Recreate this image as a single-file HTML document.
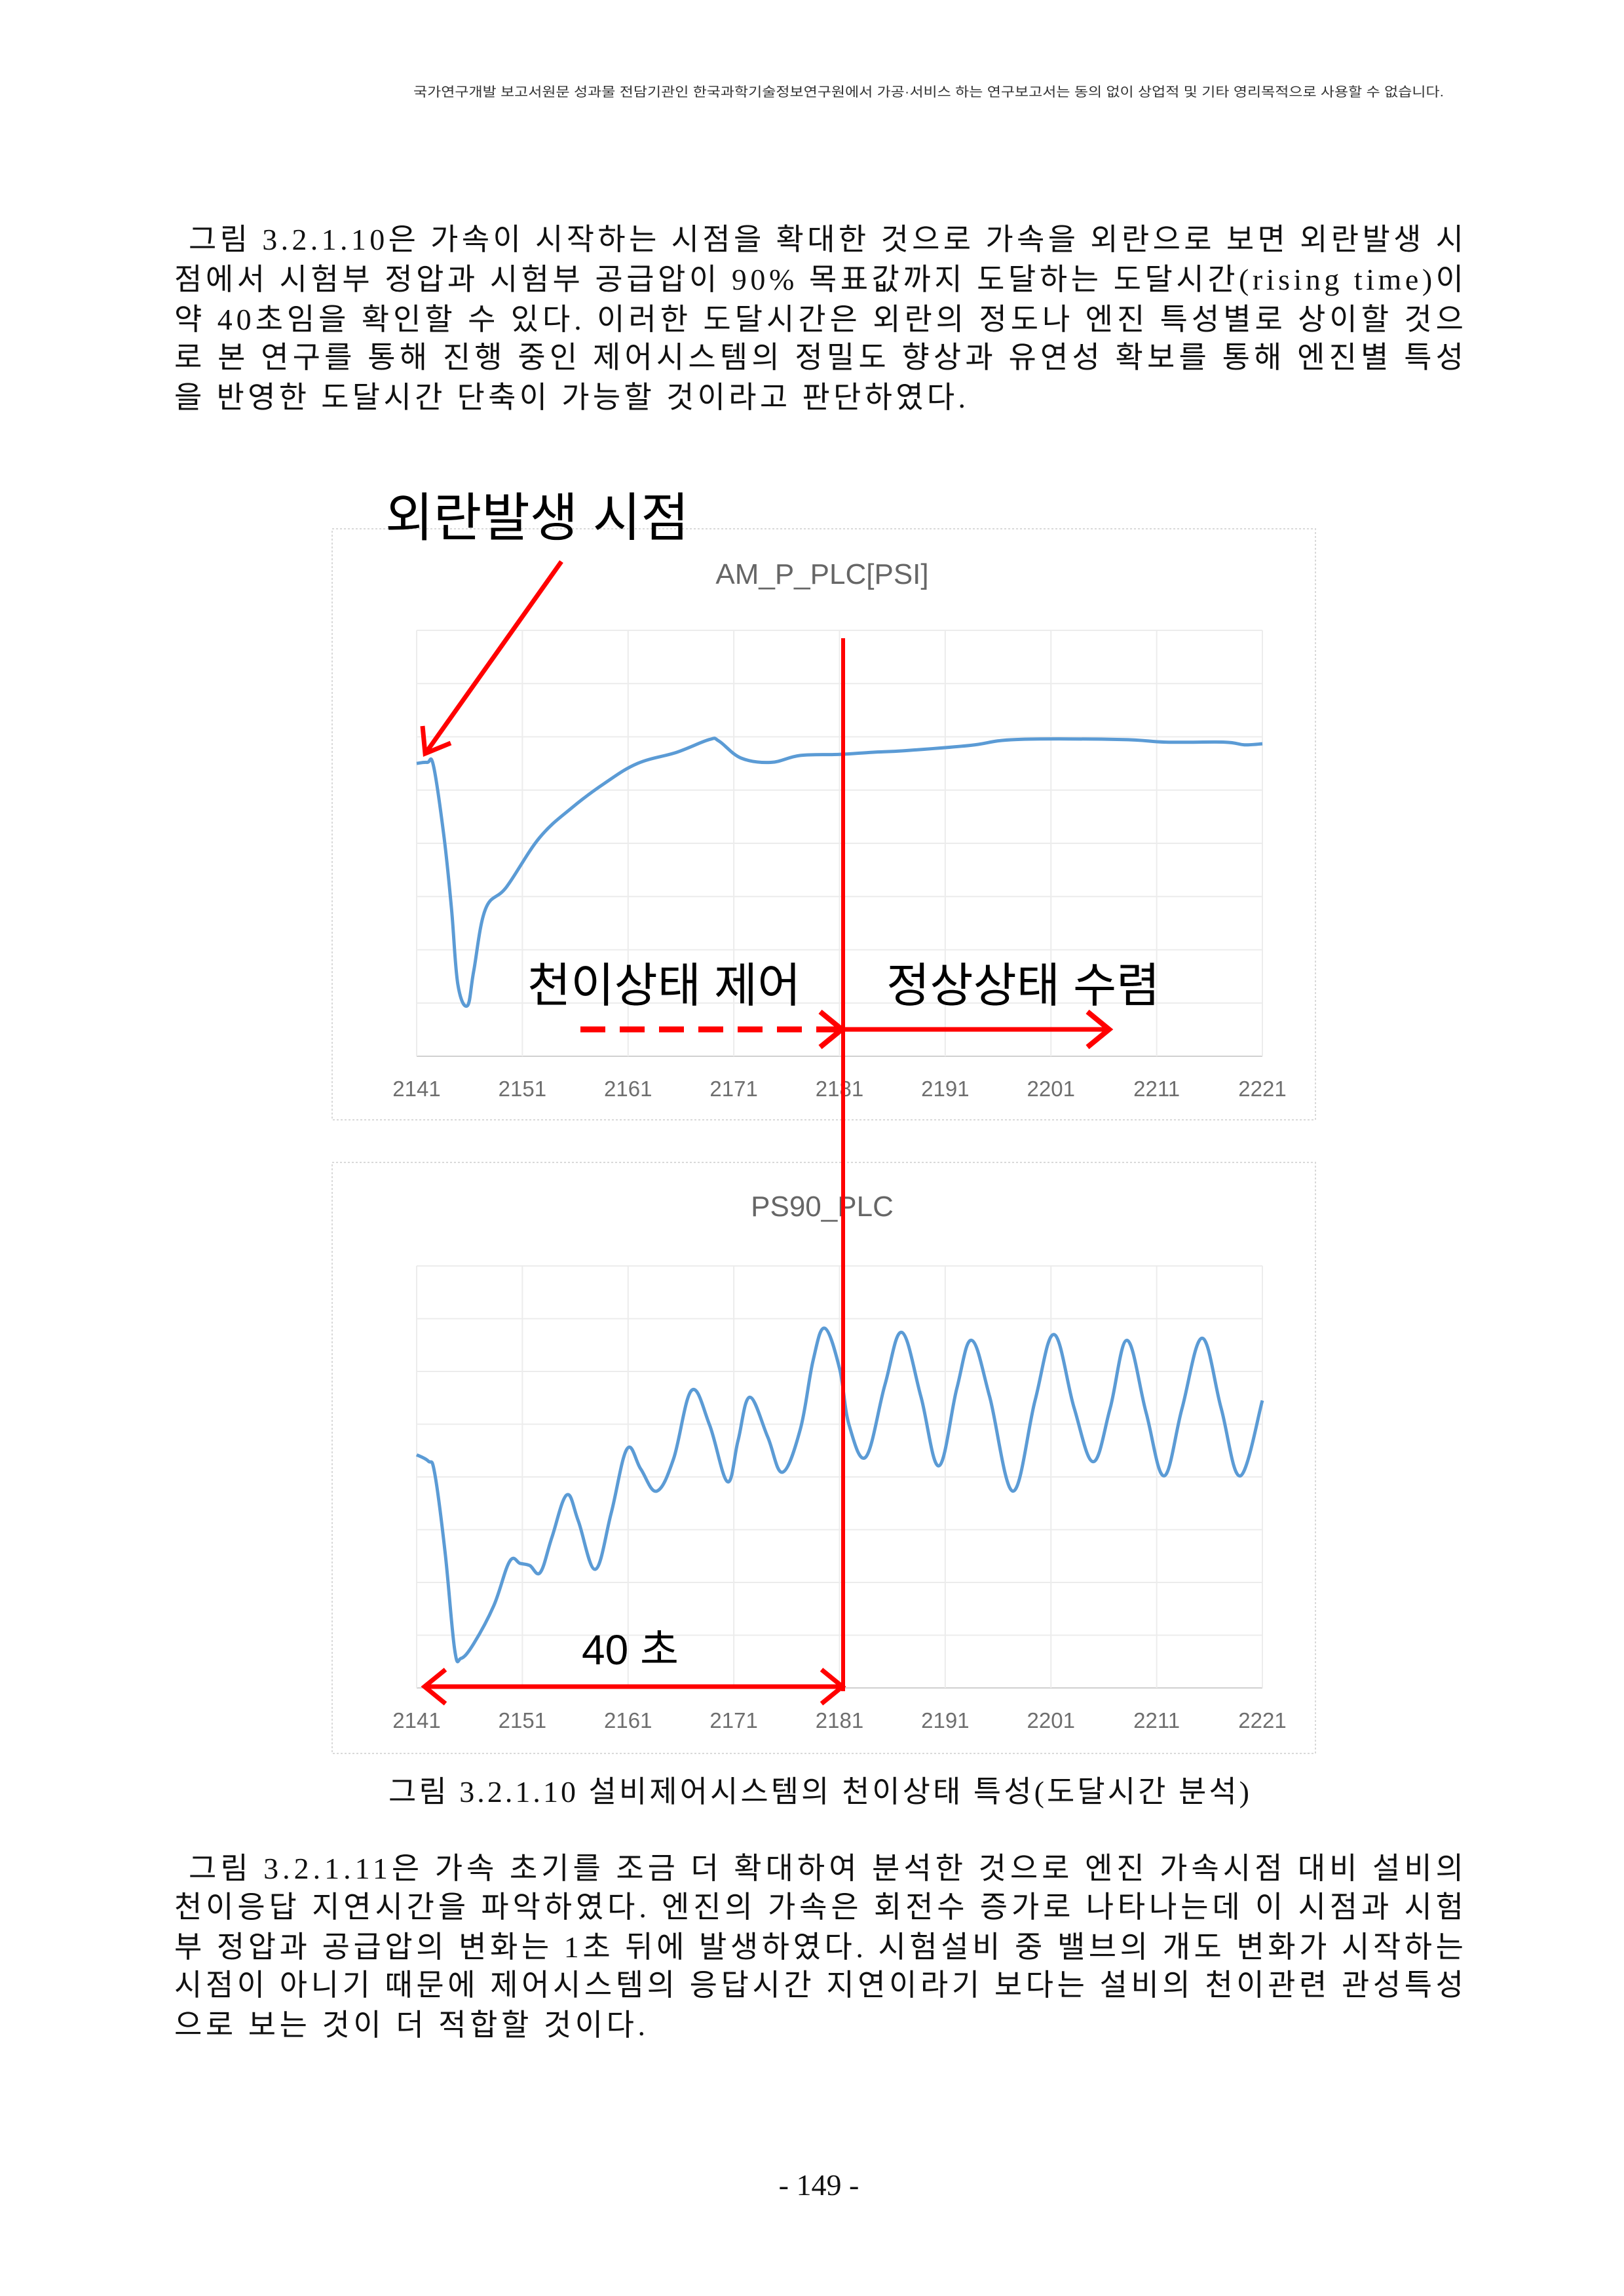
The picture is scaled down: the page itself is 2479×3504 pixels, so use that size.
<!DOCTYPE html>
<html><head><meta charset="utf-8">
<style>
html,body{margin:0;padding:0;background:#fff;}
svg{display:block;}
.kr{font-family:"Liberation Sans","Noto Sans CJK KR",sans-serif;}
.body{font-family:"Liberation Serif","Noto Sans CJK KR",sans-serif;font-size:46px;fill:#111;}
.tick{font-family:"Liberation Sans","Noto Sans CJK KR",sans-serif;font-size:33px;fill:#6e6e6e;}
</style></head>
<body>
<svg id="page" width="2479" height="3504" viewBox="0 0 2479 3504">
<text class="kr" x="631" y="147" font-size="20" fill="#333" textLength="1573" lengthAdjust="spacingAndGlyphs">국가연구개발 보고서원문 성과물 전담기관인 한국과학기술정보연구원에서 가공·서비스 하는 연구보고서는 동의 없이 상업적 및 기타 영리목적으로 사용할 수 없습니다.</text>

<g class="body">
<text x="288" y="381" textLength="1946" lengthAdjust="spacing">그림 3.2.1.10은 가속이 시작하는 시점을 확대한 것으로 가속을 외란으로 보면 외란발생 시</text>
<text x="266" y="442" textLength="1968" lengthAdjust="spacing">점에서 시험부 정압과 시험부 공급압이 90% 목표값까지 도달하는 도달시간(rising time)이</text>
<text x="266" y="503" textLength="1968" lengthAdjust="spacing">약 40초임을 확인할 수 있다. 이러한 도달시간은 외란의 정도나 엔진 특성별로 상이할 것으</text>
<text x="266" y="561" textLength="1968" lengthAdjust="spacing">로 본 연구를 통해 진행 중인 제어시스템의 정밀도 향상과 유연성 확보를 통해 엔진별 특성</text>
<text x="266" y="622" textLength="1208" lengthAdjust="spacing">을 반영한 도달시간 단축이 가능할 것이라고 판단하였다.</text>
</g>

<g id="chart1">
<rect x="507" y="807" width="1501" height="902" fill="#fff" stroke="#d9d9d9" stroke-width="2" stroke-dasharray="3,3"/>
<text class="kr" x="1255" y="891" font-size="44" fill="#666" text-anchor="middle">AM_P_PLC[PSI]</text>
</g>
<g id="chart2">
<rect x="507" y="1774" width="1501" height="902" fill="#fff" stroke="#d9d9d9" stroke-width="2" stroke-dasharray="3,3"/>
<text class="kr" x="1255" y="1856" font-size="44" fill="#666" text-anchor="middle">PS90_PLC</text>
</g>

<g id="annot">
<line x1="1287" y1="974" x2="1287" y2="2581" stroke="#f00" stroke-width="6"/>
<text class="kr" x="588" y="818" font-size="80" fill="#000">외란발생 시점</text>
<line x1="857" y1="857" x2="652" y2="1146" stroke="#f00" stroke-width="7"/>
<polyline points="645,1108 649,1150 688,1134" fill="none" stroke="#f00" stroke-width="7"/>
<text class="kr" x="805" y="1529" font-size="72" fill="#000">천이상태 제어</text>
<text class="kr" x="1353" y="1529" font-size="72" fill="#000">정상상태 수렴</text>
<line x1="886" y1="1571" x2="1282" y2="1571" stroke="#f00" stroke-width="9" stroke-dasharray="38,22"/>
<polyline points="1252,1544 1285,1571 1252,1598" fill="none" stroke="#f00" stroke-width="8"/>
<line x1="1287" y1="1571" x2="1692" y2="1571" stroke="#f00" stroke-width="7"/>
<polyline points="1660,1544 1693,1571 1660,1598" fill="none" stroke="#f00" stroke-width="8"/>
<text class="kr" x="888" y="2540" font-size="64" fill="#000">40 초</text>
<line x1="648" y1="2574" x2="1284" y2="2574" stroke="#f00" stroke-width="7"/>
<polyline points="680,2548 648,2574 680,2600" fill="none" stroke="#f00" stroke-width="7"/>
<polyline points="1254,2548 1286,2574 1254,2600" fill="none" stroke="#f00" stroke-width="7"/>
</g>

<text class="body" x="593" y="2750" textLength="1314" lengthAdjust="spacing">그림 3.2.1.10 설비제어시스템의 천이상태 특성(도달시간 분석)</text>

<g class="body">
<text x="288" y="2867" textLength="1946" lengthAdjust="spacing">그림 3.2.1.11은 가속 초기를 조금 더 확대하여 분석한 것으로 엔진 가속시점 대비 설비의</text>
<text x="266" y="2926" textLength="1968" lengthAdjust="spacing">천이응답 지연시간을 파악하였다. 엔진의 가속은 회전수 증가로 나타나는데 이 시점과 시험</text>
<text x="266" y="2987" textLength="1968" lengthAdjust="spacing">부 정압과 공급압의 변화는 1초 뒤에 발생하였다. 시험설비 중 밸브의 개도 변화가 시작하는</text>
<text x="266" y="3045" textLength="1968" lengthAdjust="spacing">시점이 아니기 때문에 제어시스템의 응답시간 지연이라기 보다는 설비의 천이관련 관성특성</text>
<text x="266" y="3106" textLength="719" lengthAdjust="spacing">으로 보는 것이 더 적합할 것이다.</text>
</g>
<text class="body" x="1250" y="3350" text-anchor="middle" font-size="40">- 149 -</text>
</svg>
<script>
const xTicks=[2141,2151,2161,2171,2181,2191,2201,2211,2221];
const amTimes=[2141,2142,2142.6,2143.6,2144.3,2144.9,2145.8,2146.4,2147.5,2149.5,2152.6,2155.7,2158.8,2161.9,2165.6,2168.7,2169.6,2171.7,2174.5,2177.3,2181,2184.1,2187.2,2193.4,2197.7,2207.6,2211.9,2217.4,2219.3,2221];
const amValues=[5.5,5.52,5.45,4.1,2.76,1.35,0.95,1.6,2.76,3.18,4.1,4.67,5.13,5.5,5.71,5.95,5.92,5.6,5.52,5.65,5.67,5.71,5.74,5.84,5.95,5.95,5.9,5.9,5.85,5.87];
const psTimes=[2141,2142.1,2142.7,2143.7,2144.6,2145.2,2146.4,2148.3,2149.8,2150.8,2151.7,2152.7,2153.8,2155.2,2156.3,2157.9,2159.4,2160.9,2162.2,2163.7,2165.3,2167,2168.7,2170.4,2171.4,2172.5,2174.2,2175.6,2177.3,2178.5,2179.6,2181,2181.9,2183.5,2185.3,2186.9,2188.7,2190.4,2192.1,2193.5,2195.2,2197.4,2199.5,2201.3,2203.2,2205,2206.6,2208.2,2210,2211.7,2213.4,2215.3,2217.1,2218.9,2221];
const psValues=[4.42,4.3,4.08,2.55,0.72,0.56,0.84,1.56,2.4,2.36,2.32,2.19,2.86,3.66,3.16,2.25,3.31,4.53,4.15,3.73,4.34,5.64,4.99,3.91,4.69,5.51,4.76,4.09,4.91,6.21,6.82,6.06,4.99,4.38,5.75,6.74,5.52,4.21,5.68,6.59,5.52,3.73,5.45,6.7,5.3,4.29,5.3,6.59,5.22,4.02,5.3,6.63,5.3,4.02,5.45];
const NS='http://www.w3.org/2000/svg';
function mk(tag,attrs,parent){const e=document.createElementNS(NS,tag);for(const k in attrs)e.setAttribute(k,attrs[k]);parent.appendChild(e);return e;}
function smoothPath(pts){
  let d='M'+pts[0][0].toFixed(1)+','+pts[0][1].toFixed(1);
  for(let i=0;i<pts.length-1;i++){
    const p0=pts[Math.max(0,i-1)],p1=pts[i],p2=pts[i+1],p3=pts[Math.min(pts.length-1,i+2)];
    const t=0.18;
    const c1=[p1[0]+(p2[0]-p0[0])*t,p1[1]+(p2[1]-p0[1])*t];
    const c2=[p2[0]-(p3[0]-p1[0])*t,p2[1]-(p3[1]-p1[1])*t];
    d+='C'+c1[0].toFixed(1)+','+c1[1].toFixed(1)+' '+c2[0].toFixed(1)+','+c2[1].toFixed(1)+' '+p2[0].toFixed(1)+','+p2[1].toFixed(1);
  }
  return d;
}
function drawChart(gid,top,bottom,tickY,times,values,name){
  const g=document.getElementById(gid);
  const L=636,R=1927,x0=2141,x1=2221,yMax=8;
  const sx=t=>L+(t-x0)/(x1-x0)*(R-L);
  const sy=v=>bottom-v/yMax*(bottom-top);
  for(let i=0;i<=yMax;i++){
    const l=mk('line',{x1:L,x2:R,y1:sy(i),y2:sy(i),stroke:i===0?'#d0d0d0':'#ececec','stroke-width':2},g);
    
    
  }
  xTicks.forEach(t=>{
    const l=mk('line',{x1:sx(t),x2:sx(t),y1:top,y2:bottom,stroke:'#ececec','stroke-width':2},g);
    
    
    const tx=mk('text',{x:sx(t),y:tickY,'text-anchor':'middle',class:'tick'},g);
    tx.textContent=t;
    
    
  });
  const pts=times.map((t,i)=>[sx(t),sy(values[i])]);
  const p=mk('path',{d:smoothPath(pts),fill:'none',stroke:'#5b9bd5','stroke-width':5,'stroke-linejoin':'round'},g);
  
  
}
drawChart('chart1',962,1612,1673,amTimes,amValues,'am-p-plc-line');
drawChart('chart2',1932,2576,2637,psTimes,psValues,'ps90-plc-line');
const svg=document.getElementById('page');
svg.appendChild(document.getElementById('annot'));
</script>
</body></html>
